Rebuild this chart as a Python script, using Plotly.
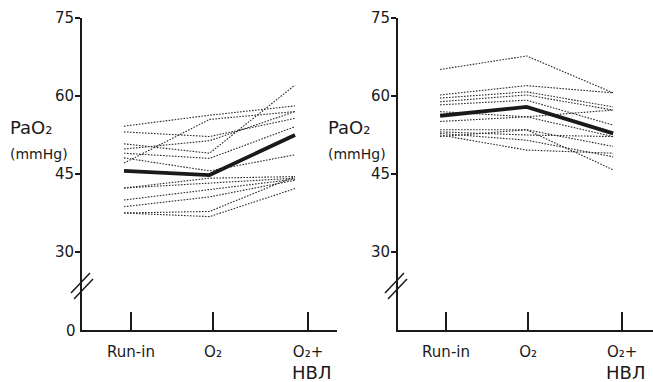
import plotly.graph_objects as go

W, H = 653, 382

stages = ["Run-in", "O₂", "O₂+"]
stage_idx = [0, 1, 2]

# Left panel: individual patients (PaO2, mmHg)
left_patients = [
    [54.2, 56.3, 58.1],
    [53.1, 52.2, 55.7],
    [50.8, 49.0, 62.1],
    [49.8, 51.4, 57.0],
    [49.0, 48.0, 54.1],
    [48.1, 45.6, 48.7],
    [47.1, 55.5, 57.0],
    [42.3, 44.2, 44.5],
    [42.3, 43.2, 44.2],
    [40.0, 42.0, 44.0],
    [38.7, 40.6, 43.8],
    [37.5, 37.8, 44.5],
    [37.5, 36.8, 42.2],
]
left_mean = [45.6, 44.8, 52.5]

# Right panel: individual patients (PaO2, mmHg)
right_patients = [
    [65.1, 67.7, 60.6],
    [60.2, 62.0, 60.6],
    [59.6, 60.8, 57.9],
    [58.9, 60.2, 57.3],
    [58.3, 59.2, 54.4],
    [57.0, 56.0, 57.3],
    [55.1, 56.0, 52.2],
    [53.5, 53.5, 50.3],
    [53.1, 52.5, 52.2],
    [52.8, 51.5, 48.3],
    [52.5, 49.6, 49.0],
    [52.2, 53.5, 45.8],
]
right_mean = [56.2, 57.9, 52.8]

y_ticks = [30, 45, 60, 75]

FONT = "DejaVu Sans"
INK = "#1a1a1a"

fig = go.Figure()

def add_panel(patients, mean, xa, ya):
    for p in patients:
        fig.add_trace(go.Scatter(x=stage_idx, y=p, mode="lines", xaxis=xa, yaxis=ya,
                                 line=dict(color="#2a2a2a", width=1.1, dash="1.6px,1.4px"),
                                 showlegend=False, hoverinfo="skip"))
    fig.add_trace(go.Scatter(x=stage_idx, y=mean, mode="lines", xaxis=xa, yaxis=ya,
                             line=dict(color=INK, width=3.8),
                             showlegend=False))

add_panel(left_patients, left_mean, "x", "y")
add_panel(right_patients, right_mean, "x2", "y2")

def px(x):
    return x / W

def py(y):
    return 1 - y / H

ydom = [py(330), py(18)]

xcommon = dict(showgrid=False, zeroline=False, showline=True, linecolor=INK, linewidth=2,
               ticks="inside", ticklen=18, tickwidth=2, tickcolor=INK, automargin=False,
               tickfont=dict(family=FONT, size=15, color=INK), ticklabelstandoff=7)
ycommon = dict(showgrid=False, zeroline=False, showline=True, linecolor=INK, linewidth=2,
               ticks="outside", ticklen=5, tickwidth=1.5, tickcolor=INK, automargin=False,
               range=[15, 75], tickvals=y_ticks, ticktext=[str(v) for v in y_ticks],
               tickfont=dict(family=FONT, size=15, color=INK), domain=ydom,
               ticklabelstandoff=-2)

fig.update_layout(
    width=W, height=H,
    margin=dict(l=0, r=0, t=0, b=0, autoexpand=False),
    paper_bgcolor="white", plot_bgcolor="white",
    xaxis=dict(xcommon, domain=[px(82), px(337)], range=[-0.491, 2.491],
               tickvals=[0.082, 1.041, 2.152], ticktext=stages, anchor="y"),
    yaxis=dict(ycommon, anchor="x"),
    xaxis2=dict(xcommon, domain=[px(398), 1.0], range=[-0.486, 2.46],
                tickvals=[0.069, 1.017, 2.104], ticktext=stages, anchor="y2"),
    yaxis2=dict(ycommon, anchor="x2"),
)

def note(text, x, y, size, xanchor="center"):
    return dict(text=text, x=px(x), y=py(y), xref="paper", yref="paper",
                xanchor=xanchor, yanchor="middle", showarrow=False,
                font=dict(family=FONT, size=size, color=INK))

ann = []
for lx in [8, 326]:
    ann.append(note("PaO₂", lx, 127, 18, "left"))
    ann.append(note("(mmHg)", lx, 154, 14, "left"))
for cx in [311, 625]:
    ann.append(note("НВЛ", cx, 372, 18))
ann.append(note("0", 71, 331, 15))
fig.update_layout(annotations=ann)

shapes = []
for ox in [0, 314]:
    for dx, dy in [(0, 0), (3, 6)]:
        shapes.append(dict(type="line", xref="paper", yref="paper",
                           x0=px(71 + ox + dx), y0=py(293 + dy), x1=px(90 + ox + dx), y1=py(273 + dy),
                           line=dict(color=INK, width=1.5)))
fig.update_layout(shapes=shapes)

fig.write_html("out.html", config={"displayModeBar": False},
               post_script="document.body.style.margin='0px';")
